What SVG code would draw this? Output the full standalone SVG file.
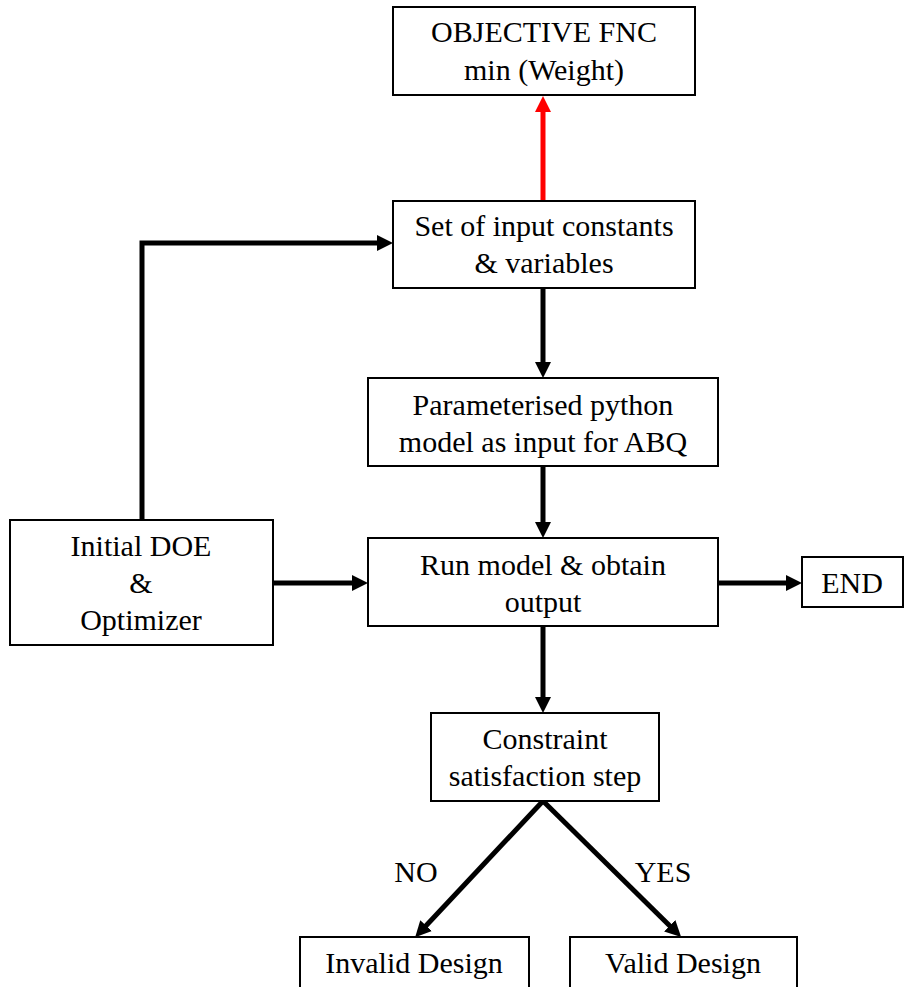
<svg xmlns="http://www.w3.org/2000/svg" width="904" height="987" viewBox="0 0 904 987">
  <style>
    .box { fill: #ffffff; stroke: #000000; stroke-width: 2; }
    .lbl { font-size: 30px; fill: #000000; text-anchor: middle; }
    .wire { fill: none; stroke: #000000; stroke-width: 5; }
    .wire-red { fill: none; stroke: #ff0000; stroke-width: 5; }
  </style>
  <defs>
    <marker id="head" markerUnits="userSpaceOnUse" markerWidth="16" markerHeight="16" refX="6" refY="8" orient="auto">
      <path d="M0,0 L16,8 L0,16 z" fill="#000000"/>
    </marker>
    <marker id="head-red" markerUnits="userSpaceOnUse" markerWidth="16" markerHeight="16" refX="6" refY="8" orient="auto">
      <path d="M0,0 L16,8 L0,16 z" fill="#ff0000"/>
    </marker>
  </defs>
  <rect width="904" height="987" fill="#ffffff"/>

  <g font-family="Liberation Serif, Tinos, Times New Roman, Noto Serif, DejaVu Serif, serif">
  <!-- connectors -->
  <g id="connectors">
    <line class="wire-red" x1="543" y1="201" x2="543" y2="106" marker-end="url(#head-red)"/>
    <polyline class="wire" points="142,520 142,243 383,243" marker-end="url(#head)"/>
    <line class="wire" x1="543" y1="288" x2="543" y2="368" marker-end="url(#head)"/>
    <line class="wire" x1="543" y1="466" x2="543" y2="528" marker-end="url(#head)"/>
    <line class="wire" x1="273" y1="583" x2="358" y2="583" marker-end="url(#head)"/>
    <line class="wire" x1="718" y1="583" x2="792" y2="583" marker-end="url(#head)"/>
    <line class="wire" x1="543" y1="626" x2="543" y2="703" marker-end="url(#head)"/>
    <line class="wire" x1="543" y1="801" x2="422" y2="930" marker-end="url(#head)"/>
    <line class="wire" x1="543" y1="801" x2="674" y2="930" marker-end="url(#head)"/>
    <text class="lbl" x="416" y="882">NO</text>
    <text class="lbl" x="663" y="882">YES</text>
  </g>

  <!-- nodes -->
  <g id="objective">
    <rect class="box" x="393" y="7" width="302" height="88"/>
    <text class="lbl" x="544" y="42">OBJECTIVE FNC</text>
    <text class="lbl" x="544" y="80">min (Weight)</text>
  </g>
  <g id="inputs">
    <rect class="box" x="393" y="201" width="302" height="87"/>
    <text class="lbl" x="544" y="236">Set of input constants</text>
    <text class="lbl" x="544" y="273">&amp; variables</text>
  </g>
  <g id="python-model">
    <rect class="box" x="368" y="378" width="350" height="88"/>
    <text class="lbl" x="543" y="415">Parameterised python</text>
    <text class="lbl" x="543" y="452">model as input for ABQ</text>
  </g>
  <g id="doe">
    <rect class="box" x="10" y="520" width="263" height="125"/>
    <text class="lbl" x="141" y="556">Initial DOE</text>
    <text class="lbl" x="141" y="593">&amp;</text>
    <text class="lbl" x="141" y="630">Optimizer</text>
  </g>
  <g id="run-model">
    <rect class="box" x="368" y="538" width="350" height="88"/>
    <text class="lbl" x="543" y="575">Run model &amp; obtain</text>
    <text class="lbl" x="543" y="612">output</text>
  </g>
  <g id="end">
    <rect class="box" x="802" y="557" width="101" height="50"/>
    <text class="lbl" x="852" y="593">END</text>
  </g>
  <g id="constraint">
    <rect class="box" x="431" y="713" width="228" height="88"/>
    <text class="lbl" x="545" y="749">Constraint</text>
    <text class="lbl" x="545" y="786">satisfaction step</text>
  </g>
  <g id="invalid">
    <rect class="box" x="300" y="937" width="229" height="60"/>
    <text class="lbl" x="414" y="973">Invalid Design</text>
  </g>
  <g id="valid">
    <rect class="box" x="570" y="937" width="227" height="60"/>
    <text class="lbl" x="683" y="973">Valid Design</text>
  </g>
  </g>
</svg>
